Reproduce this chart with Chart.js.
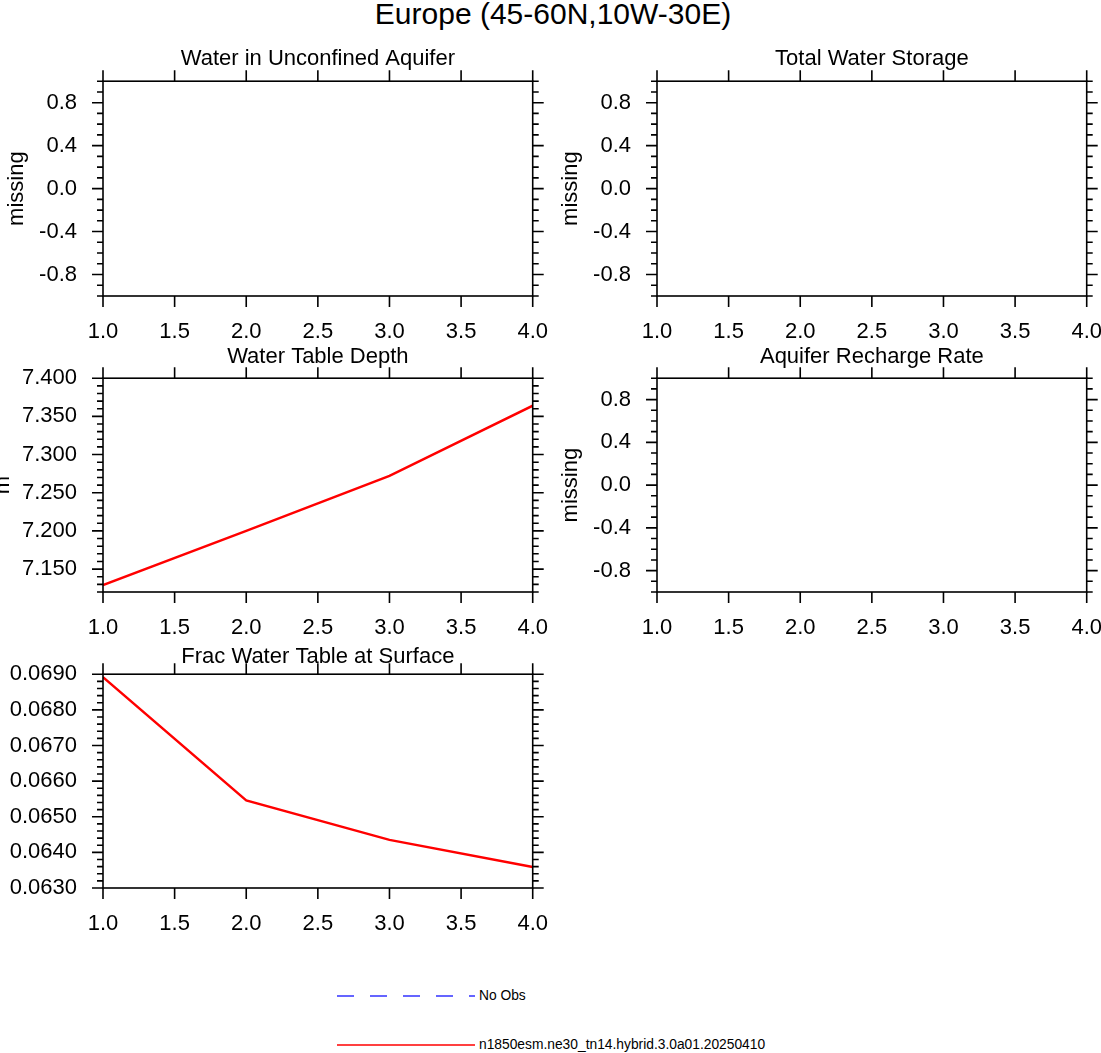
<!DOCTYPE html>
<html>
<head>
<meta charset="utf-8">
<script src="https://cdn.jsdelivr.net/npm/chart.js@4.4.1/dist/chart.umd.min.js"></script>
<style>
  body { margin: 0; width: 1101px; height: 1053px; overflow: hidden; background: #fff; position: relative;
         font-family: "Liberation Sans", Arial, sans-serif; }
  .panel { position: absolute; }
  #mainTitle { position: absolute; left: 0; top: -2px; width: 1106px; text-align: center; font-size: 30px; line-height: 32px; }
  .legend { position: absolute; left: 337px; font-size: 13.8px; line-height: 16px; }
  .legend svg { vertical-align: middle; }
  .legend span { position: absolute; left: 142px; top: 0; white-space: nowrap; }
</style>
</head>
<body>
<div id="mainTitle">Europe (45-60N,10W-30E)</div>

<div class="panel" style="left:0px;top:42px"><canvas id="c1"></canvas></div>
<div class="panel" style="left:554px;top:42px"><canvas id="c2"></canvas></div>
<div class="panel" style="left:-14px;top:339px"><canvas id="c3"></canvas></div>
<div class="panel" style="left:554px;top:339px"><canvas id="c4"></canvas></div>
<div class="panel" style="left:0px;top:635px"><canvas id="c5"></canvas></div>

<div class="legend" style="top:988px">
  <svg width="138" height="16"><line x1="0" y1="8" x2="138" y2="8" stroke="#3333ff" stroke-width="1.4" stroke-dasharray="17,16"/></svg>
  <span>No Obs</span>
</div>
<div class="legend" style="top:1037px">
  <svg width="138" height="16"><line x1="0" y1="8" x2="138" y2="8" stroke="#ff0000" stroke-width="1.4"/></svg>
  <span>n1850esm.ne30_tn14.hybrid.3.0a01.20250410</span>
</div>

<script>
// data
const years = [1, 2, 3, 4];
const waterTableDepth = [7.129, 7.200, 7.272, 7.364];
const fracWaterTable = [0.06892, 0.06546, 0.06435, 0.06359];

const xTicks = [1.0, 1.5, 2.0, 2.5, 3.0, 3.5, 4.0];
const missingTicks = [-0.8, -0.4, 0.0, 0.4, 0.8];
const depthTicks = [7.150, 7.200, 7.250, 7.300, 7.350, 7.400];
const fracTicks = [0.0630, 0.0640, 0.0650, 0.0660, 0.0670, 0.0680, 0.0690];

const modelName = 'n1850esm.ne30_tn14.hybrid.3.0a01.20250410';
const FONT = '"Liberation Sans", Arial, sans-serif';

// NCL-like frame: box plus outward major/minor ticks on all four sides
const framePlugin = {
  id: 'nclFrame',
  afterDraw(chart, args, opts) {
    const { ctx, chartArea: a, scales: { x, y } } = chart;
    ctx.save();
    ctx.strokeStyle = '#000';
    ctx.lineWidth = 1.6;
    ctx.strokeRect(a.left, a.top, a.right - a.left, a.bottom - a.top);
    ctx.beginPath();
    x.ticks.forEach(t => {
      const px = x.getPixelForValue(t.value);
      ctx.moveTo(px, a.top); ctx.lineTo(px, a.top - 11);
      ctx.moveTo(px, a.bottom); ctx.lineTo(px, a.bottom + 11);
    });
    y.ticks.forEach(t => {
      const py = y.getPixelForValue(t.value);
      ctx.moveTo(a.left, py); ctx.lineTo(a.left - 11, py);
      ctx.moveTo(a.right, py); ctx.lineTo(a.right + 11, py);
    });
    const step = opts.minor;
    const k0 = Math.ceil(y.min / step - 1e-6), k1 = Math.floor(y.max / step + 1e-6);
    for (let k = k0; k <= k1; k++) {
      const py = y.getPixelForValue(k * step);
      ctx.moveTo(a.left, py); ctx.lineTo(a.left - 6, py);
      ctx.moveTo(a.right, py); ctx.lineTo(a.right + 6, py);
    }
    ctx.stroke();
    ctx.restore();
  }
};

function makePanel(id, cfg) {
  const canvas = document.getElementById(id);
  canvas.width = cfg.width;
  canvas.height = cfg.height;
  canvas.style.width = cfg.width + 'px';
  canvas.style.height = cfg.height + 'px';
  const datasets = cfg.values ? [{
    label: modelName,
    data: years.map((yr, i) => ({ x: yr, y: cfg.values[i] })),
    borderColor: '#ff0000',
    borderWidth: 2.4,
    pointRadius: 0,
    tension: 0,
    fill: false
  }] : [];
  return new Chart(canvas, {
    type: 'line',
    data: { datasets },
    plugins: [framePlugin],
    options: {
      responsive: false,
      animation: false,
      layout: { padding: { left: 0, right: 28, top: 0, bottom: 0 } },
      plugins: {
        legend: { display: false },
        tooltip: { enabled: false },
        title: {
          display: true, text: cfg.title, color: '#000', fullSize: false,
          font: { family: FONT, size: 22, weight: 'normal', lineHeight: 1.2 },
          padding: { top: 0, bottom: cfg.titleGap }
        },
        nclFrame: { minor: cfg.minor }
      },
      scales: {
        x: {
          type: 'linear', min: 1, max: 4,
          grid: { display: false, drawTicks: false },
          border: { display: false },
          afterBuildTicks: s => { s.ticks = xTicks.map(v => ({ value: v })); },
          afterFit: s => { s.height = 50; },
          ticks: {
            color: '#000', padding: 23, maxRotation: 0, autoSkip: false,
            font: { family: FONT, size: 22 },
            callback: v => Number(v).toFixed(1)
          }
        },
        y: {
          type: 'linear', min: cfg.ymin, max: cfg.ymax,
          grid: { display: false, drawTicks: false },
          border: { display: false },
          afterBuildTicks: s => { s.ticks = cfg.ticks.map(v => ({ value: v })); },
          afterFit: s => { s.width = cfg.yWidth; },
          title: {
            display: !!cfg.ylabel, text: cfg.ylabel, color: '#000',
            font: { family: FONT, size: 22 }, padding: { top: 4, bottom: 0 }
          },
          ticks: {
            color: '#000', padding: 26, autoSkip: false,
            font: { family: FONT, size: 22 },
            callback: v => Number(v).toFixed(cfg.digits)
          }
        }
      }
    }
  });
}

makePanel('c1', { width: 571, height: 304, title: 'Water in Unconfined Aquifer', titleGap: 9,
  ymin: -1, ymax: 1, ticks: missingTicks, minor: 0.1, digits: 1, ylabel: 'missing', yWidth: 103 });
makePanel('c2', { width: 571, height: 304, title: 'Total Water Storage', titleGap: 9,
  ymin: -1, ymax: 1, ticks: missingTicks, minor: 0.1, digits: 1, ylabel: 'missing', yWidth: 103 });
makePanel('c3', { width: 585, height: 303, title: 'Water Table Depth', titleGap: 8,
  ymin: 7.12, ymax: 7.40, ticks: depthTicks, minor: 0.01, digits: 3, ylabel: 'm', yWidth: 117,
  values: waterTableDepth });
makePanel('c4', { width: 571, height: 303, title: 'Aquifer Recharge Rate', titleGap: 8,
  ymin: -1, ymax: 1, ticks: missingTicks, minor: 0.1, digits: 1, ylabel: 'missing', yWidth: 103 });
makePanel('c5', { width: 571, height: 303, title: 'Frac Water Table at Surface', titleGap: 4,
  ymin: 0.0630, ymax: 0.0690, ticks: fracTicks, minor: 0.0002, digits: 4, ylabel: '', yWidth: 103,
  values: fracWaterTable });
</script>
</body>
</html>
